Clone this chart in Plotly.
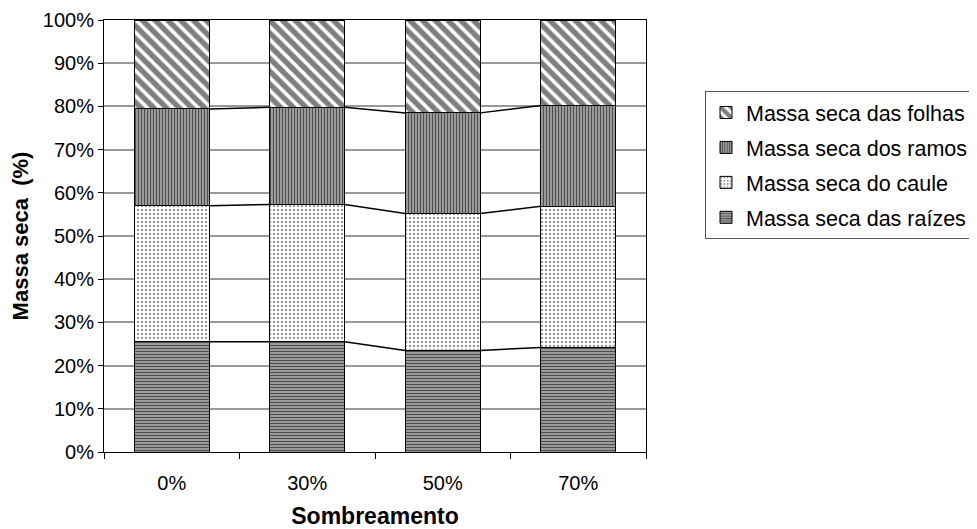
import plotly.graph_objects as go

categorias = ["0%", "30%", "50%", "70%"]
raizes = [25.5, 25.5, 23.5, 24.2]
caule = [31.5, 31.8, 31.7, 32.7]
ramos = [22.4, 22.5, 23.3, 23.3]
folhas = [20.6, 20.2, 21.5, 19.8]

nomes = ["Massa seca das raízes", "Massa seca do caule", "Massa seca dos ramos", "Massa seca das folhas"]
series = [raizes, caule, ramos, folhas]
padroes = [
    dict(shape="-", fgcolor="#000000", bgcolor="#9a9a9a", size=3, solidity=0.35),
    dict(shape=".", fgcolor="#333333", bgcolor="#ffffff", size=4, solidity=0.3),
    dict(shape="|", fgcolor="#000000", bgcolor="#9a9a9a", size=3, solidity=0.35),
    dict(shape="\\", fgcolor="#000000", bgcolor="#ffffff", size=9, solidity=0.6),
]
ranks = [4, 3, 2, 1]

xpos = list(range(len(categorias)))
bar_w = 0.553

# page has an 8px body margin; figure coordinates = screen coordinates - 8
W, H = 969, 521
PL, PR, PT, PB = 104 - 8, 646 - 8, 20 - 8, 452 - 8

fig = go.Figure()
for i, (nome, vals, pat) in enumerate(zip(nomes, series, padroes)):
    fig.add_trace(go.Bar(
        x=xpos, y=vals, name=nome, width=bar_w,
        marker=dict(color="white", pattern=pat, line=dict(color="black", width=1)),
        legendgroup=str(i), legendrank=ranks[i],
    ))

# series lines connecting cumulative tops
cum = [0] * len(categorias)
for vals in series[:-1]:
    cum = [c + v for c, v in zip(cum, vals)]
    for k in range(len(categorias) - 1):
        fig.add_trace(go.Scatter(
            x=[xpos[k] + bar_w / 2, xpos[k + 1] - bar_w / 2],
            y=[cum[k], cum[k + 1]],
            mode="lines", line=dict(color="black", width=1.5),
            showlegend=False, hoverinfo="skip",
        ))

# invisible trace for boundary ticks axis
fig.add_trace(go.Scatter(x=[-0.5, 3.5], y=[0, 0], xaxis="x2", mode="markers",
                         marker=dict(opacity=0), showlegend=False, hoverinfo="skip"))

plot_h = PB - PT
fig.update_layout(
    width=W, height=H,
    barmode="stack",
    plot_bgcolor="white", paper_bgcolor="white",
    margin=dict(l=PL, r=W - PR, t=PT, b=H - PB, autoexpand=False),
    font=dict(family="Liberation Sans, Arial", size=20, color="black"),
    xaxis=dict(
        range=[-0.5, 3.5], tickvals=xpos, ticktext=categorias,
        ticks="", showgrid=False, zeroline=False,
        showline=True, linecolor="black", linewidth=1, mirror=True,
        title=dict(text="<b>Sombreamento</b>", font=dict(size=23), standoff=19),
        tickfont=dict(size=20), ticklabelstandoff=13,
    ),
    xaxis2=dict(
        range=[-0.5, 3.5], overlaying="x", side="bottom",
        tickvals=[-0.5, 0.5, 1.5, 2.5, 3.5], ticks="outside", ticklen=6,
        tickcolor="black", showticklabels=False, showgrid=False, zeroline=False,
        showline=False,
    ),
    yaxis=dict(
        range=[0, 100], dtick=10, ticksuffix="%",
        showgrid=True, gridcolor="#999999", gridwidth=1.5,
        ticks="outside", ticklen=5, tickcolor="black",
        showline=True, linecolor="black", linewidth=1, mirror=True,
        zeroline=False, ticklabeloverflow="allow",
        title=dict(text="<b>Massa seca  (%)</b>", font=dict(size=22), standoff=18),
        tickfont=dict(size=20),
    ),
    legend=dict(
        x=(705 - 104) / 542, xref="paper", y=(444 - 83) / plot_h, yref="paper",
        xanchor="left", yanchor="top",
        bordercolor="#555555", borderwidth=1, bgcolor="white",
        font=dict(size=21.5), traceorder="grouped", tracegroupgap=4,
        itemwidth=30,
    ),
    showlegend=True,
)

fig.write_html("out.html")
